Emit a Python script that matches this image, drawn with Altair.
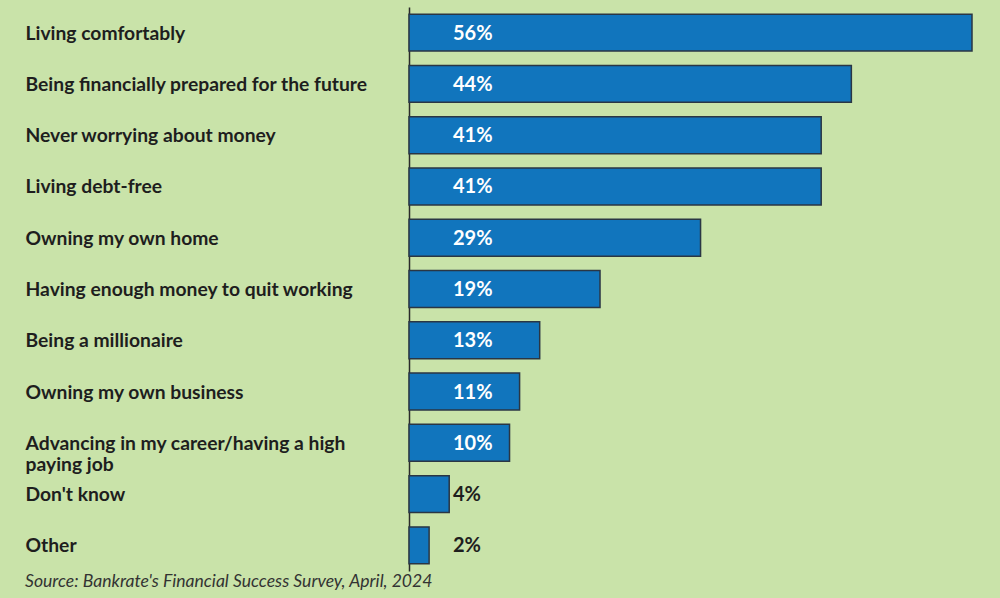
import altair as alt
import pandas as pd

categories = [
    "Living comfortably",
    "Being financially prepared for the future",
    "Never worrying about money",
    "Living debt-free",
    "Owning my own home",
    "Having enough money to quit working",
    "Being a millionaire",
    "Owning my own business",
    "Advancing in my career/having a high|paying job",
    "Don't know",
    "Other",
]
values = [56, 44, 41, 41, 29, 19, 13, 11, 10, 4, 2]
source_text = "Source: Bankrate's Financial Success Survey, April, 2024"

df = pd.DataFrame({"cat": categories, "val": values})
df["lbl"] = [f"{v}%" for v in values]
df["inside"] = [v >= 10 for v in values]

FONT = "Lato"
BG = "#c9e3a9"

y_enc = alt.Y(
    "cat:N",
    sort=categories,
    scale=alt.Scale(paddingInner=0.28, paddingOuter=0.14),
    axis=alt.Axis(
        title=None,
        ticks=False,
        domain=True,
        domainColor="#2a2a2a",
        domainWidth=1.5,
        labelAlign="left",
        labelPadding=384,
        labelFont=FONT,
        labelFontSize=19.3,
        labelFontWeight="bold",
        labelColor="#1e1e1e",
        labelLimit=400,
        labelLineHeight=21,
        labelOffset=1,
        labelExpr="split(datum.label, '|')",
    ),
)
x_scale = alt.Scale(domain=[0, 56], nice=False)

bars = alt.Chart(df).mark_bar(
    color="#1175bd", stroke="#2a3644", strokeWidth=1.5
).encode(
    y=y_enc,
    x=alt.X("val:Q", scale=x_scale, axis=None),
)

texts = alt.Chart(df).mark_text(
    align="left", baseline="middle", font=FONT, fontSize=20, fontWeight="bold", dy=1
).encode(
    y=alt.Y("cat:N", sort=categories),
    x=alt.value(44),
    text="lbl:N",
    color=alt.condition("datum.inside", alt.value("white"), alt.value("#1e1e1e")),
)

src = alt.Chart(pd.DataFrame({"t": [source_text]})).mark_text(
    align="left", baseline="middle", font=FONT, fontSize=17.6, fontStyle="italic", color="#333333"
).encode(
    x=alt.value(-384),
    y=alt.value(575),
    text="t:N",
)

chart = alt.layer(bars, texts, src).properties(
    width=563,
    height=564,
    background=BG,
    padding={"left": 409, "top": 7, "right": 28, "bottom": 27},
    autosize=alt.AutoSizeParams(type="none"),
).configure_view(stroke=None)

chart.save("out.html", embed_options={"renderer": "svg", "actions": False})
